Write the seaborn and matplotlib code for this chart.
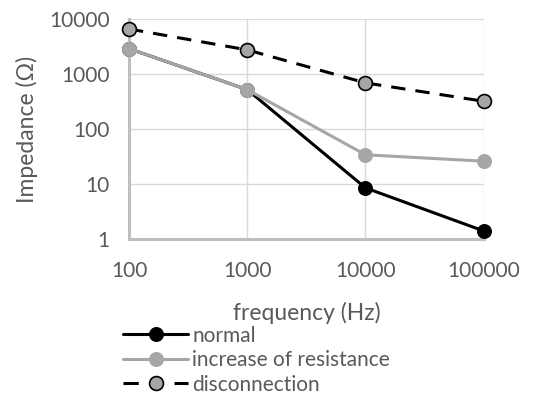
import matplotlib
matplotlib.use("Agg")
import matplotlib.pyplot as plt
import seaborn as sns
import pandas as pd

freq = [100, 1000, 10000, 100000]
normal = [2900, 520, 8.5, 1.4]
increase = [2900, 520, 34, 26]
disconnection = [6600, 2750, 690, 320]
labels = ["normal", "increase of resistance", "disconnection"]

sns.set_theme(style="white")
plt.rcParams['font.family'] = ['Lato', 'DejaVu Sans']
txt = "#595959"

fig = plt.figure(figsize=(5.56, 3.97), dpi=100)
ax = fig.add_axes([0.232, 0.398, 0.638, 0.554])

sns.lineplot(x=freq, y=normal, ax=ax, color="black", lw=2.2, marker="o",
             markersize=10, markeredgecolor="black", markerfacecolor="black",
             label=labels[0], zorder=3)
sns.lineplot(x=freq, y=increase, ax=ax, color="#a6a6a6", lw=2.2, marker="o",
             markersize=10, markeredgecolor="#a6a6a6", markerfacecolor="#a6a6a6",
             label=labels[1], zorder=4)
sns.lineplot(x=freq, y=disconnection, ax=ax, color="black", lw=2.2, marker="o",
             markersize=10, markeredgecolor="black", markerfacecolor="#a6a6a6",
             markeredgewidth=1.2, dashes=False, label=labels[2], zorder=5)
ax.lines[-1].set_linestyle((0, (4.7, 3.3)))

ax.set_xscale("log")
ax.set_yscale("log")
ax.set_xlim(100, 100000)
ax.set_ylim(1, 10000)
ax.set_xticks(freq)
ax.set_xticklabels(["100", "1000", "10000", "100000"])
ax.set_yticks([1, 10, 100, 1000, 10000])
ax.set_yticklabels(["1", "10", "100", "1000", "10000"])
ax.minorticks_off()
ax.grid(True, color="#d9d9d9", lw=1)
for s in ["top", "right"]:
    ax.spines[s].set_visible(False)
for s in ["left", "bottom"]:
    ax.spines[s].set_color("#bfbfbf")
    ax.spines[s].set_linewidth(2.2)
ax.tick_params(axis="both", length=0, labelsize=15, colors=txt)
ax.tick_params(axis="y", pad=14)
ax.tick_params(axis="x", pad=16)
ax.set_xlabel("frequency (Hz)", fontsize=16.5, color=txt, labelpad=15)
ax.set_ylabel("Impedance (Ω)", fontsize=16.5, color=txt, labelpad=8)
for l in ax.lines[:3]:
    l.set_clip_on(False)

h, l = ax.get_legend_handles_labels()
ax.legend(h, l, loc="upper left", bbox_to_anchor=(0.222, 0.18), bbox_transform=fig.transFigure,
          frameon=False, fontsize=15, labelcolor=txt, handlelength=3.1,
          handletextpad=0.2, labelspacing=0.22, borderpad=0, borderaxespad=0)
leg = ax.get_legend()
leg.legend_handles[2].set_linestyle((0, (5, 11.7)))

fig.savefig("out.png", dpi=100)
